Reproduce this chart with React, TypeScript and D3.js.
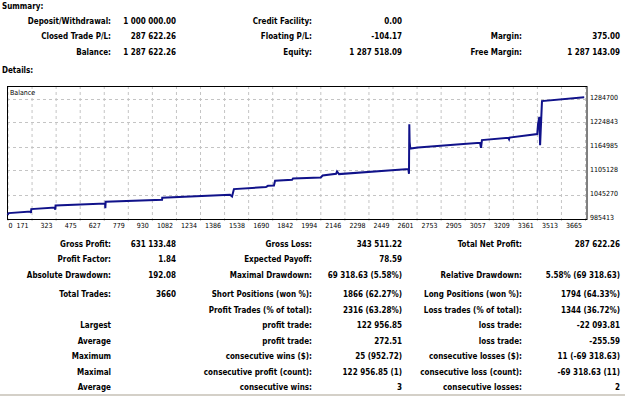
import * as d3 from "d3";

// balance curve (trade number -> balance)
const trades = [0, 8, 146, 149, 151, 301, 303, 305, 619, 621, 623, 981, 982, 1412, 1425, 1437, 1640, 1653, 1691, 1698, 1806, 1812, 1988, 2000, 2085, 2091, 2104, 2544, 2548, 2550, 2552, 2556, 2605, 2872, 2999, 3005, 3011, 3178, 3183, 3186, 3362, 3367, 3375, 3380, 3392, 3660];
const balance = [994600, 998900, 1002870, 999630, 1008860, 1012850, 1007110, 1017840, 1022820, 1011350, 1027060, 1032050, 1037040, 1044520, 1040280, 1058740, 1063730, 1066970, 1067800, 1079440, 1081930, 1085170, 1087670, 1092660, 1096900, 1102630, 1096150, 1108620, 1096900, 1220350, 1176700, 1159990, 1162490, 1170470, 1174210, 1161740, 1180940, 1186680, 1182940, 1187180, 1195910, 1220850, 1239050, 1168470, 1278210, 1287620];

const xTicks = ["0", "171", "323", "475", "627", "779", "930", "1082", "1234", "1386", "1538", "1690", "1842", "1994", "2146", "2298", "2449", "2601", "2753", "2905", "3057", "3209", "3361", "3513", "3665"];
const yTicks = [985413, 1045270, 1105128, 1164985, 1224843, 1284700];

const summaryRows = [
  ["Deposit/Withdrawal:", "1 000 000.00", "Credit Facility:", "0.00", "", ""],
  ["Closed Trade P/L:", "287 622.26", "Floating P/L:", "-104.17", "Margin:", "375.00"],
  ["Balance:", "1 287 622.26", "Equity:", "1 287 518.09", "Free Margin:", "1 287 143.09"],
];

const detailRows = [
  ["Gross Profit:", "631 133.48", "Gross Loss:", "343 511.22", "Total Net Profit:", "287 622.26"],
  ["Profit Factor:", "1.84", "Expected Payoff:", "78.59", "", ""],
  ["Absolute Drawdown:", "192.08", "Maximal Drawdown:", "69 318.63 (5.58%)", "Relative Drawdown:", "5.58% (69 318.63)"],
  ["Total Trades:", "3660", "Short Positions (won %):", "1866 (62.27%)", "Long Positions (won %):", "1794 (64.33%)"],
  ["", "", "Profit Trades (% of total):", "2316 (63.28%)", "Loss trades (% of total):", "1344 (36.72%)"],
  ["Largest", "", "profit trade:", "122 956.85", "loss trade:", "-22 093.81"],
  ["Average", "", "profit trade:", "272.51", "loss trade:", "-255.59"],
  ["Maximum", "", "consecutive wins ($):", "25 (952.72)", "consecutive losses ($):", "11 (-69 318.63)"],
  ["Maximal", "", "consecutive profit (count):", "122 956.85 (1)", "consecutive loss (count):", "-69 318.63 (11)"],
  ["Average", "", "consecutive wins:", "3", "consecutive losses:", "2"],
];

const font = '"DejaVu Sans Condensed", "DejaVu Sans", sans-serif';
const colX = [111, 176, 312, 402, 522, 620];
const summaryY = [23.8, 39.3, 54.8];
const detailY = [246.5, 262, 277.5, 297, 312.5, 328, 343.5, 359, 374.5, 390];

const box = { left: 7, right: 586.5, top: 86, bottom: 219 };

function TextRow({ row, y }: { row: string[]; y: number }) {
  return (
    <g>
      {row.map((t, i) =>
        t ? (
          <text key={i} x={colX[i]} y={y} textAnchor="end">
            {t}
          </text>
        ) : null
      )}
    </g>
  );
}

export default function App() {
  const xGrid = d3.scalePoint<string>().domain(xTicks).range([7.5, 585]);
  const x = d3.scaleLinear().domain([0, 3665]).range([7.5, 585]);
  const y = d3.scaleLinear().domain([985413, 1284700]).range([218.5, 98.5]);

  const points = trades.map((t, i) => [t, balance[i]] as [number, number]);
  const line = d3
    .line<[number, number]>()
    .x((d) => x(d[0]))
    .y((d) => y(d[1]));

  return (
    <svg
      width={625}
      height={397}
      style={{ position: "absolute", left: 0, top: 0, background: "#fff" }}
      fontFamily={font}
      fontStretch="condensed"
    >
      <g fontSize={8} fontWeight="bold" fill="#000">
        <text x={2} y={9}>Summary:</text>
        {summaryRows.map((r, i) => (
          <TextRow key={i} row={r} y={summaryY[i]} />
        ))}
        <text x={2} y={72.5}>Details:</text>
        {detailRows.map((r, i) => (
          <TextRow key={i} row={r} y={detailY[i]} />
        ))}
      </g>

      {/* grid */}
      <g stroke="#c4c4c4" strokeWidth={1} strokeDasharray="3,3">
        {xTicks.map((t) => (
          <line key={t} x1={xGrid(t)! + 0.5} x2={xGrid(t)! + 0.5} y1={box.top} y2={box.bottom + 3} />
        ))}
        {yTicks.map((v) => (
          <line key={v} x1={box.left} x2={box.right + 2.5} y1={Math.round(y(v)) + 0.5} y2={Math.round(y(v)) + 0.5} />
        ))}
      </g>

      <rect
        x={box.left + 0.5}
        y={box.top + 0.5}
        width={box.right - box.left}
        height={box.bottom - box.top}
        fill="none"
        stroke="#000"
        strokeWidth={1}
      />

      <text x={10} y={95} fontSize={7}>Balance</text>

      <path d={line(points) || ""} fill="none" stroke="#10128a" strokeWidth={2} />

      <g fontSize={7} fill="#000">
        {xTicks.map((t, i) => (
          <text
            key={t}
            x={i === 0 ? xGrid(t)! + 1 : xGrid(t)! - 3}
            y={228}
            textAnchor={i === 0 ? "start" : "end"}
          >
            {t}
          </text>
        ))}
        {yTicks.map((v) => (
          <text key={v} x={590} y={y(v)} dominantBaseline="middle">
            {v}
          </text>
        ))}
      </g>

      <rect x={0} y={394} width={625} height={2} fill="#d4d0c8" />
    </svg>
  );
}
